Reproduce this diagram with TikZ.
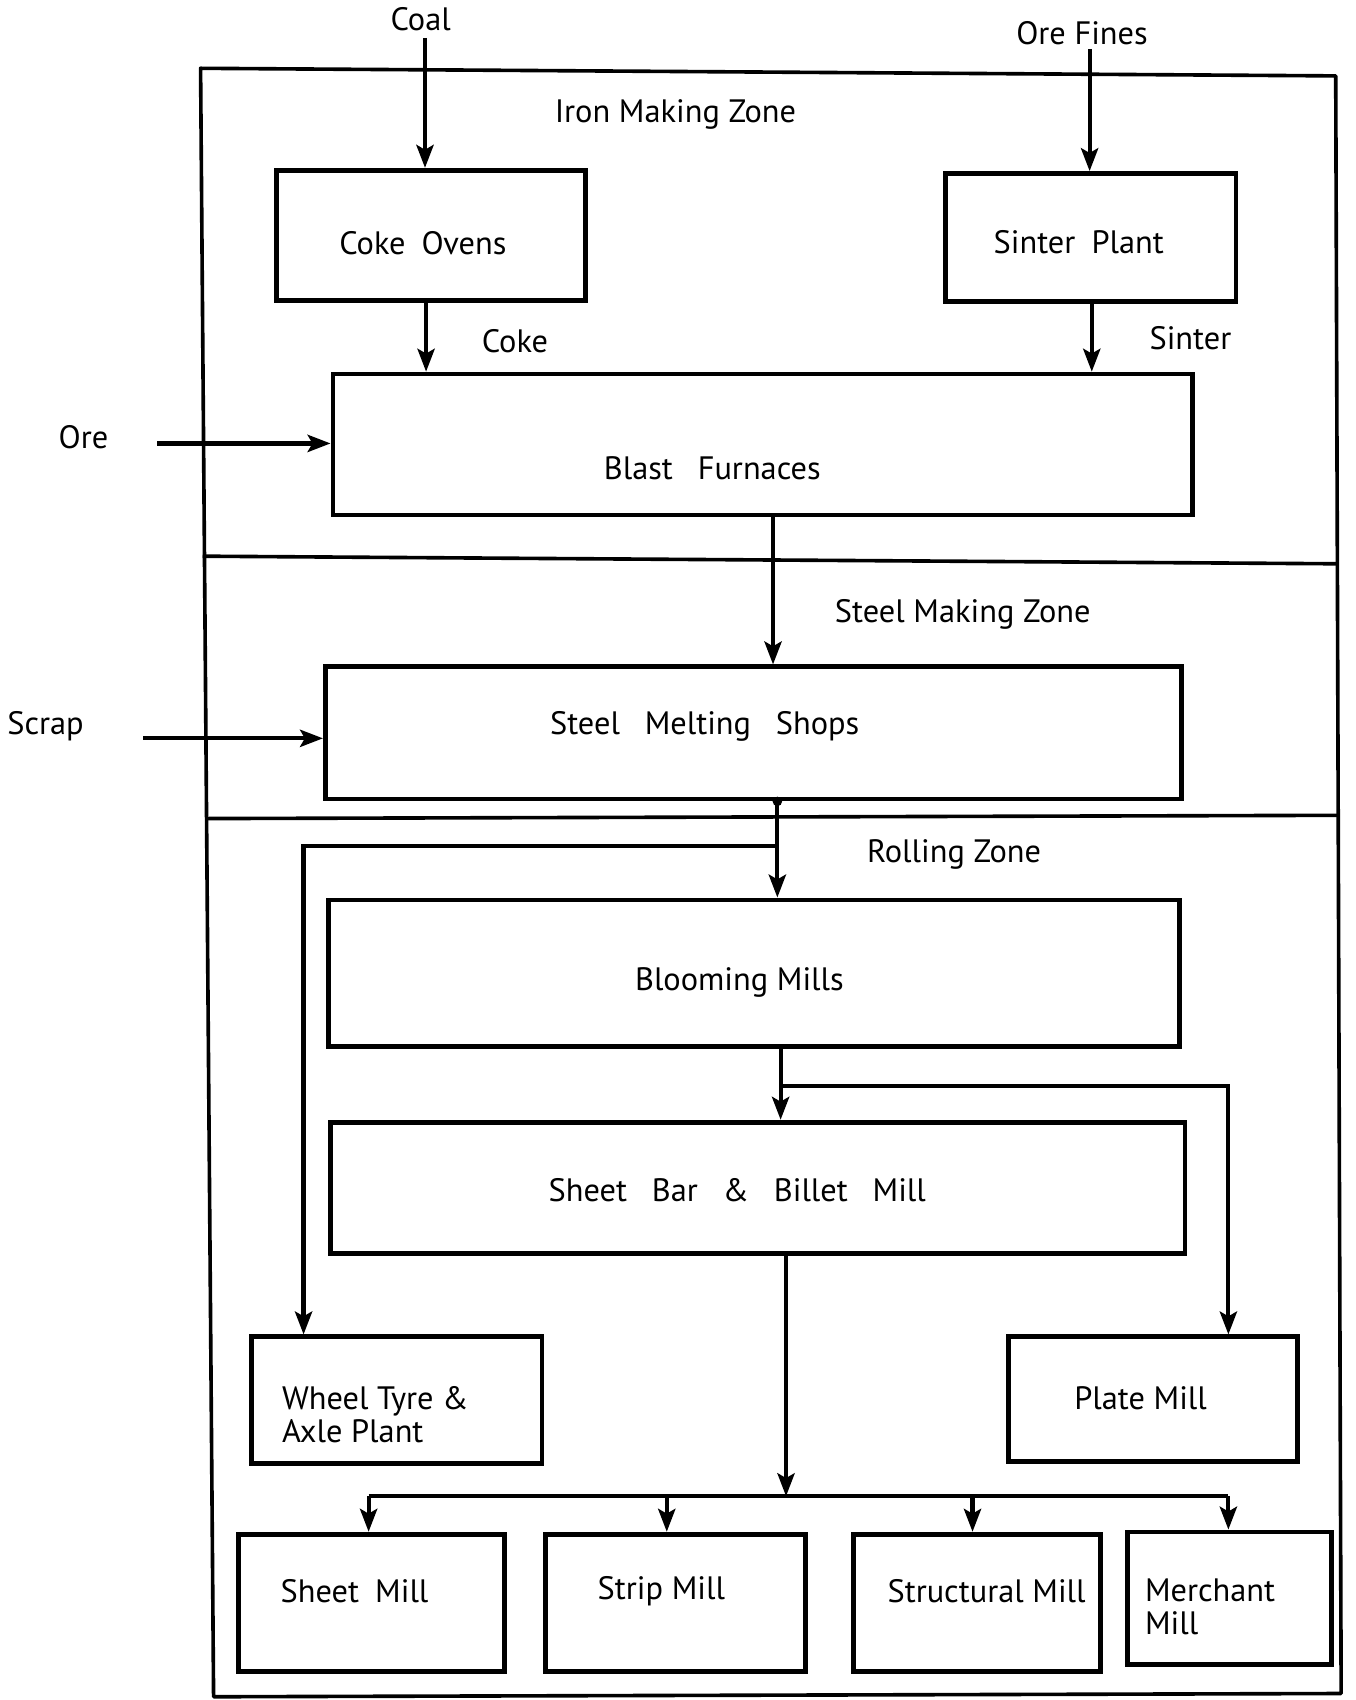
\documentclass[tikz,border=0pt]{standalone}
\usepackage{fontspec}
\setmainfont{PT Sans}
\usetikzlibrary{arrows.meta}
\begin{document}
\begin{tikzpicture}[x=0.02cm,y=-0.02cm,
  box/.style={draw, line width=2.5pt, inner sep=0pt},
  lbl/.style={font=\fontsize{17}{17.5}\selectfont, inner sep=1pt},
  arr/.style={line width=2.2pt, -{Stealth[length=12pt,width=9pt,inset=2.5pt]}},
  ln/.style={line width=2.4pt},
  frame/.style={line width=1.9pt, line join=round}]
\useasboundingbox (0,0) rectangle (1250,1568);

% frame and zone dividers
\draw[frame] (185,63) -- (1232,70) -- (1237,1562) -- (197,1565) -- cycle;
\draw[frame] (187,513) -- (1233,520);
\draw[frame] (190,755) -- (1235,752);

% zone titles
\node[lbl] (zi) at (623,106) {Iron Making Zone};
\node[lbl] (zs) at (888,567) {Steel Making Zone};
\node[lbl] (zr) at (880,788) {Rolling Zone};

% boxes
\node[box, minimum width=5.7cm, minimum height=2.4cm] (co) at (397.5,217) {};
\node[lbl] (co-t) at (390,224) {Coke\enspace Ovens};
\node[box, minimum width=5.36cm, minimum height=2.36cm] (sp) at (1006,219) {};
\node[lbl] (sp-t) at (995,223) {Sinter\enspace Plant};
\node[box, minimum width=15.86cm, minimum height=2.6cm] (bf) at (703.5,410) {};
\node[lbl] (bf-t) at (657,432) {Blast\enspace\ Furnaces};
\node[box, minimum width=15.8cm, minimum height=2.44cm] (sms) at (695,676) {};
\node[lbl] (sms-t) at (650,670) {Steel\enspace\ Melting\enspace\ Shops};
\node[box, minimum width=15.7cm, minimum height=2.7cm] (bm) at (695.5,897.5) {};
\node[lbl] (bm-t) at (682,906) {Blooming Mills};
\node[box, minimum width=15.76cm, minimum height=2.42cm] (sb) at (699,1095.5) {};
\node[lbl] (sb-t) at (680,1098) {Sheet\enspace\ Bar\enspace\ \&\enspace\ Billet\enspace\ Mill};
\node[box, minimum width=5.36cm, minimum height=2.34cm] (wt) at (366,1291.5) {};
\node[lbl, anchor=west, align=left] (wt-t) at (258,1305) {Wheel Tyre \&\\Axle Plant};
\node[box, minimum width=5.34cm, minimum height=2.3cm] (pm) at (1063.5,1290.5) {};
\node[lbl] (pm-t) at (1052,1290) {Plate Mill};
\node[box, minimum width=4.9cm, minimum height=2.54cm] (shm) at (342.5,1478.5) {};
\node[lbl] (shm-t) at (327,1468) {Sheet\enspace Mill};
\node[box, minimum width=4.8cm, minimum height=2.54cm] (stm) at (623,1478.5) {};
\node[lbl] (stm-t) at (610,1468) {Strip Mill};
\node[box, minimum width=4.56cm, minimum height=2.54cm] (scm) at (901,1478.5) {};
\node[lbl] (scm-t) at (910,1468) {Structural Mill};
\node[box, minimum width=3.76cm, minimum height=2.44cm] (mm) at (1134,1474) {};
\node[lbl, anchor=west, align=left] (mm-t) at (1054,1482) {Merchant\\Mill};

% outside inputs
\node[lbl] (coal) at (388,18) {Coal};
\node[lbl] (of) at (998,31) {Ore Fines};
\node[lbl] (ore) at (77,403) {Ore};
\node[lbl] (scrap) at (42,670) {Scrap};
\node[lbl] (coke) at (475,315) {Coke};
\node[lbl] (sinter) at (1098,312) {Sinter};

\coordinate (coalS) at (392,35);
\coordinate (ofS) at (1005,45);
\coordinate (oreS) at (145,409);
\coordinate (scrapS) at (132,681);
\coordinate (t1) at (713,0);
\coordinate (t2) at (717,0);
\coordinate (t3) at (720,0);
\coordinate (t4) at (725,0);
\coordinate (br1) at (0,780);
\coordinate (br2) at (0,1002);
\coordinate (bus) at (0,1380);

\draw[arr] (coalS) -- (coalS |- co.north);
\draw[arr] (ofS) -- (ofS |- sp.north);
\draw[arr] (co.south -| 393,0) -- (393,0 |- bf.north);
\draw[arr] (sp.south -| 1007,0) -- (1007,0 |- bf.north);
\draw[arr] (oreS) -- (oreS -| bf.west);
\draw[arr] (scrapS) -- (scrapS -| sms.west);
\draw[arr] (bf.south -| t1) -- (t1 |- sms.north);
\draw[arr] (sms.south -| t2) -- (t2 |- bm.north);
\fill (sms.south -| t2) circle[radius=2.5pt];
\draw[arr] (t2 |- br1) -| (wt.north -| 280,0);
\draw[arr] (bm.south -| t3) -- (t3 |- sb.north);
\draw[arr] (t3 |- br2) -| (pm.north -| 1133,0);
\draw[arr] (sb.south -| t4) -- (t4 |- bus);
\draw[ln] (340,0 |- bus) -- (1133,0 |- bus);
\draw[arr] (340,0 |- bus) -- (340,0 |- shm.north);
\draw[arr] (615,0 |- bus) -- (615,0 |- stm.north);
\draw[arr] (897,0 |- bus) -- (897,0 |- scm.north);
\draw[arr] (1133,0 |- bus) -- (1133,0 |- mm.north);
\end{tikzpicture}
\end{document}
